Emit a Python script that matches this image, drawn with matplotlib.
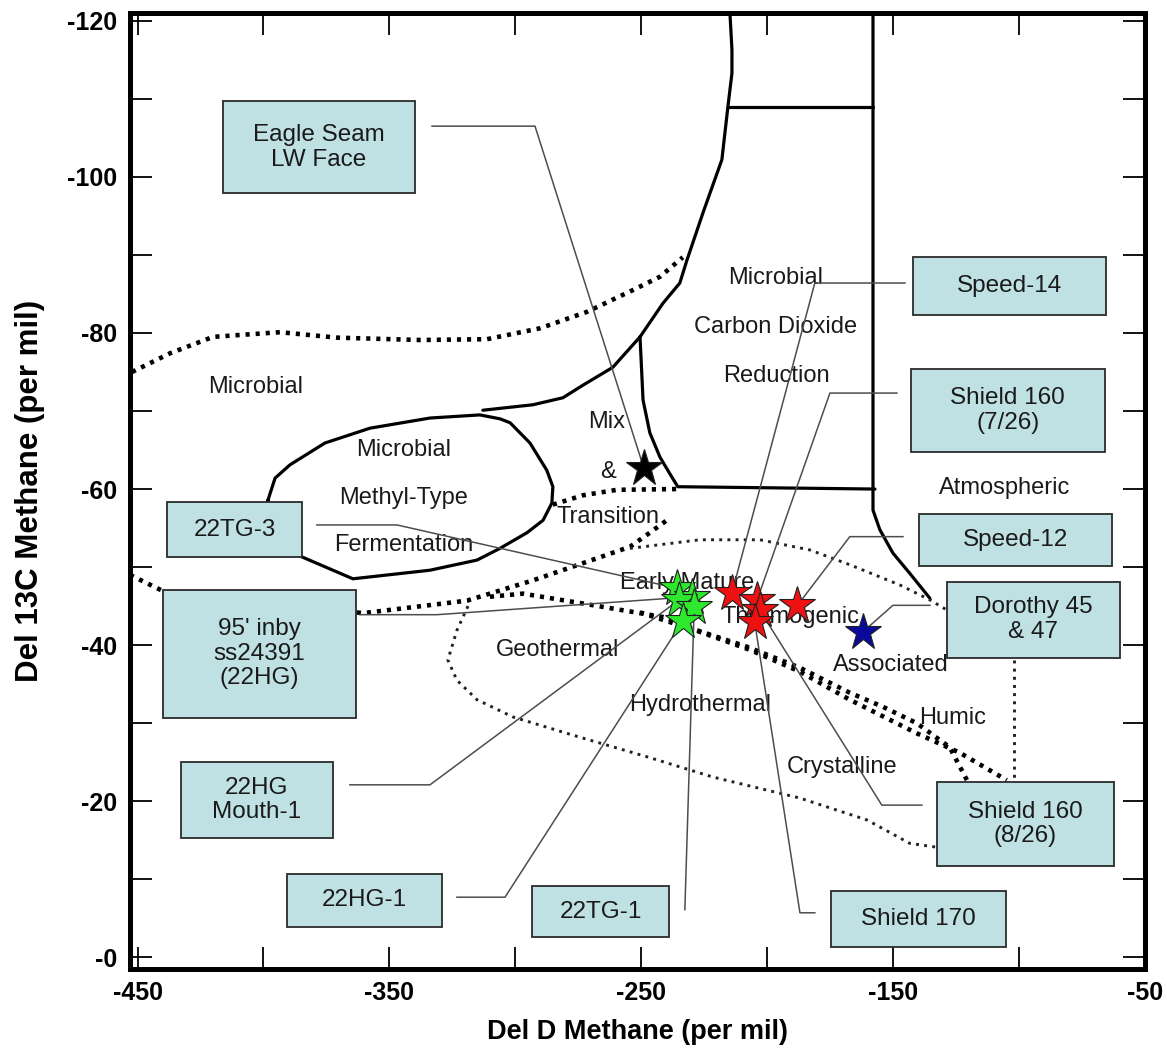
import matplotlib
matplotlib.use("Agg")
import matplotlib.pyplot as plt
from matplotlib import font_manager as fm
from matplotlib.patches import Rectangle

# ---- sample isotope values (del D, del 13C, per mil) ----
green_dD = [-236.0, -230.0, -235.0, -229.0, -233.5]
green_13C = [-47.3, -46.2, -45.8, -44.9, -43.1]
red_dD = [-214.0, -204.0, -188.0, -203.0, -205.0]
red_13C = [-46.7, -45.8, -45.1, -44.5, -43.0]
blue_dD = [-162.0]
blue_13C = [-41.7]
black_dD = [-249.0]
black_13C = [-62.7]

# ---- sample labels and the star each one points to ----
sample_names = ["Eagle Seam\nLW Face", "Speed-14", "Shield 160\n(7/26)", "Speed-12",
                "Dorothy 45\n& 47", "Shield 160\n(8/26)", "Shield 170", "22TG-1",
                "22HG-1", "22HG\nMouth-1", "95' inby\nss24391\n(22HG)", "22TG-3"]
sample_group = ["black", "red", "red", "red", "blue", "red", "red",
                "green", "green", "green", "green", "green"]
sample_idx = [0, 0, 1, 2, 0, 3, 4, 3, 4, 2, 1, 0]

# label boxes (left, right, top, bottom)
box_left = [-416.1, -142.2, -143.0, -139.8, -128.7, -132.6, -174.7, -293.4, -390.7, -432.8, -439.9, -438.3]
box_right = [-339.9, -65.5, -65.9, -63.2, -60.0, -62.4, -105.2, -239.0, -329.1, -372.4, -363.3, -384.7]
box_top = [-109.7, -89.7, -75.4, -56.8, -48.1, -22.5, -8.5, -9.1, -10.7, -25.0, -47.1, -58.3]
box_bottom = [-97.9, -82.3, -64.7, -50.1, -38.4, -11.7, -1.3, -2.6, -3.9, -15.3, -30.7, -51.3]
# leader lines: start next to box, elbow, then on to the star
lead_start = [-333.1, -145.3, -148.5, -146.1, -135.4, -138.6, -181.1, -232.7, -323.2, -365.7, -361.7, -378.8]
lead_elbow = [-292.2, -181.1, -175.1, -167.2, -150.1, -154.5, -187.0, -232.7, -304.1, -333.9, -331.1, -347.0]
lead_y = [-106.5, -86.4, -72.3, -53.9, -45.1, -19.5, -5.7, -6.1, -7.7, -22.1, -43.9, -55.4]

# ---- field names ----
field_names = ["Microbial", "Microbial", "Methyl-Type", "Fermentation", "Mix", "&", "Transition",
               "Microbial", "Carbon Dioxide", "Reduction", "Atmospheric", "Early Mature",
               "Thermogenic", "Associated", "Geothermal", "Hydrothermal", "Crystalline", "Humic"]
field_x = [-403.0, -344.2, -344.2, -344.2, -263.6, -263.2, -263.2, -196.5, -196.5, -196.5,
           -105.6, -231.9, -190.6, -150.9, -283.1, -226.7, -170.3, -126.3]
field_y = [-73.1, -65.0, -58.9, -52.8, -68.6, -62.2, -56.4, -87.0, -80.8, -74.5,
           -60.1, -48.0, -43.6, -37.5, -39.4, -32.3, -24.4, -30.7]

# ---- solid field outlines ----
ferment_x = [-398.2, -395.4, -389.5, -375.6, -357.7, -333.9, -314.1, -306.1, -302.1, -294.2, -287.5,
             -285.1, -285.5, -289.0, -295.4, -306.1, -315.2, -333.9, -364.5, -384.7, -393.5, -399.4, -398.2]
ferment_y = [-58.6, -61.4, -63.1, -65.9, -67.8, -69.1, -69.5, -69.0, -68.5, -65.9, -62.4,
             -60.3, -58.2, -56.0, -54.4, -52.4, -50.9, -49.6, -48.5, -51.3, -52.8, -55.0, -58.6]
co2_x = [-214.8, -214.0, -214.0, -215.6, -218.0, -225.5, -231.9, -234.7, -241.4, -250.5]
co2_y = [-121.0, -116.3, -113.3, -109.0, -102.2, -95.4, -89.3, -86.4, -83.8, -79.5]
mix_top_x = [-250.5, -261.3, -273.2, -281.1, -293.0, -312.9]
mix_top_y = [-79.5, -75.6, -73.3, -71.7, -70.8, -70.1]
mix_right_x = [-250.5, -249.3, -246.6, -242.6, -237.8, -235.5, -157.2]
mix_right_y = [-79.5, -71.4, -67.2, -64.1, -61.5, -60.3, -60.0]
atm_x = [-158.0, -158.0, -155.3, -150.1, -143.4, -135.4]
atm_y = [-121.0, -57.3, -54.8, -51.8, -49.2, -46.0]
box_line_x = [-215.6, -158.0]
box_line_y = [-109.0, -109.0]

# ---- dotted field boundaries ----
micro_x = [-452.2, -437.1, -420.0, -393.5, -370.8, -337.9, -311.3, -290.2, -271.6, -253.3, -242.6, -233.5]
micro_y = [-75.0, -77.4, -79.5, -80.1, -79.4, -79.1, -79.2, -80.6, -82.7, -85.5, -87.2, -89.7]
mixlow_x = [-285.1, -273.2, -259.7, -235.9]
mixlow_y = [-58.0, -59.2, -59.9, -60.0]
trans_x = [-453.0, -439.1, -360.5, -319.2, -293.0, -273.2, -254.5, -246.6, -238.6]
trans_y = [-49.0, -46.8, -44.1, -45.7, -48.3, -50.5, -52.6, -54.4, -56.3]
therm_a_x = [-310.1, -297.0, -274.4, -241.4, -227.9, -208.1, -187.0, -167.2, -154.1, -140.6, -127.5, -120.7]
therm_a_y = [-46.2, -46.6, -45.4, -43.6, -41.9, -39.8, -37.1, -33.9, -32.1, -30.0, -26.9, -22.7]
therm_b_x = [-250.5, -226.7, -206.9, -187.0, -167.2, -140.6, -123.5, -104.9]
therm_b_y = [-44.2, -41.7, -39.4, -36.6, -33.0, -28.7, -26.2, -22.7]
assoc_x = [-254.5, -226.7, -202.9, -183.1, -167.2, -147.3, -135.4, -128.7]
assoc_y = [-52.4, -53.5, -53.5, -52.2, -50.3, -47.7, -45.8, -44.5]
humic_x = [-102.1, -102.1]
humic_y = [-38.1, -22.7]
geo_x = [-318.8, -323.2, -326.8, -323.2, -315.2, -301.0, -274.4, -247.8, -221.6, -187.0, -160.4, -143.4, -132.6]
geo_y = [-45.0, -41.9, -38.1, -35.5, -33.0, -30.8, -28.2, -25.7, -23.1, -20.4, -17.6, -14.6, -14.1]

available = {f.name for f in fm.fontManager.ttflist}
tick_font = "Liberation Sans Narrow" if "Liberation Sans Narrow" in available else "Liberation Sans"
text_font = "Liberation Sans"

fig = plt.figure(figsize=(11.67, 10.57), dpi=100)
ax = fig.add_axes([130 / 1167, 1 - 969 / 1057, 1015 / 1167, 956 / 1057])
ax.set_xlim(-453, -50)
ax.set_ylim(1.5, -121)

solid = dict(color="black", lw=2.3, solid_joinstyle="round", solid_capstyle="round", zorder=2)
for xs, ys in [(ferment_x, ferment_y), (co2_x, co2_y), (mix_top_x, mix_top_y),
               (mix_right_x, mix_right_y), (atm_x, atm_y), (box_line_x, box_line_y)]:
    ax.plot(xs, ys, **solid)

thick_dot = dict(color="black", lw=3.3, linestyle=(0, (0.9, 1.3)), dash_capstyle="butt", zorder=2)
thin_dot = dict(color="#222222", lw=2.1, linestyle=(0, (1, 1.8)), dash_capstyle="butt", zorder=2)
for xs, ys in [(micro_x, micro_y), (mixlow_x, mixlow_y), (trans_x, trans_y),
               (therm_a_x, therm_a_y), (therm_b_x, therm_b_y)]:
    ax.plot(xs, ys, **thick_dot)
for xs, ys in [(assoc_x, assoc_y), (humic_x, humic_y), (geo_x, geo_y)]:
    ax.plot(xs, ys, **thin_dot)

for name, fx, fy in zip(field_names, field_x, field_y):
    ax.text(fx, fy, name, ha="center", va="center", fontsize=17, family=text_font,
            color="#1a1a1a", zorder=3)

stars = {"green": (green_dD, green_13C), "red": (red_dD, red_13C),
         "blue": (blue_dD, blue_13C), "black": (black_dD, black_13C)}

# leaders and boxes
for i, name in enumerate(sample_names):
    sx, sy = stars[sample_group[i]]
    px, py = sx[sample_idx[i]], sy[sample_idx[i]]
    ax.plot([lead_start[i], lead_elbow[i], px], [lead_y[i], lead_y[i], py],
            color="#4d4d4d", lw=1.1, zorder=3)
    w = box_right[i] - box_left[i]
    h = box_bottom[i] - box_top[i]
    ax.add_patch(Rectangle((box_left[i], box_top[i]), w, h, facecolor="#bfe1e4",
                           edgecolor="#2b2b2b", lw=1.3, zorder=4))
    ax.text((box_left[i] + box_right[i]) / 2, (box_top[i] + box_bottom[i]) / 2, name,
            ha="center", va="center", fontsize=17.5, family=text_font, color="#1a1a1a",
            linespacing=1.15, zorder=5)

star_style = dict(marker="*", markersize=28, markeredgecolor="#202020", markeredgewidth=0.8,
                  linestyle="none", zorder=6)
ax.plot(green_dD, green_13C, markerfacecolor="#2ee82e", **star_style)
ax.plot(red_dD, red_13C, markerfacecolor="#ee1111", **star_style)
ax.plot(blue_dD, blue_13C, markerfacecolor="#0a0a9a", **star_style)
ax.plot(black_dD, black_13C, markerfacecolor="black", **star_style)

# axes frame and ticks
for sp in ax.spines.values():
    sp.set_linewidth(3.6)
ax.set_xticks([-450, -350, -250, -150, -50])
ax.set_xticklabels(["-450", "-350", "-250", "-150", "-50"])
ax.set_xticks([-400, -300, -200, -100], minor=True)
ax.set_yticks([-120, -100, -80, -60, -40, -20, 0])
ax.set_yticklabels(["-120", "-100", "-80", "-60", "-40", "-20", "-0"])
ax.set_yticks([-110, -90, -70, -50, -30, -10], minor=True)
ax.tick_params(which="both", direction="in", length=16, width=1.3, top=True, right=True)
ax.tick_params(axis="x", which="major", pad=9)
ax.tick_params(axis="y", which="major", pad=9)
for lab in ax.get_xticklabels() + ax.get_yticklabels():
    lab.set_family(tick_font)
    lab.set_fontweight("bold")
    lab.set_fontsize(18)

ax.set_xlabel("Del D Methane (per mil)", fontsize=19.5, fontweight="bold", family=text_font, labelpad=10)
ax.set_ylabel("Del 13C Methane (per mil)", fontsize=22.5, fontweight="bold", family=text_font, labelpad=16)

fig.savefig("out.png", dpi=100)
